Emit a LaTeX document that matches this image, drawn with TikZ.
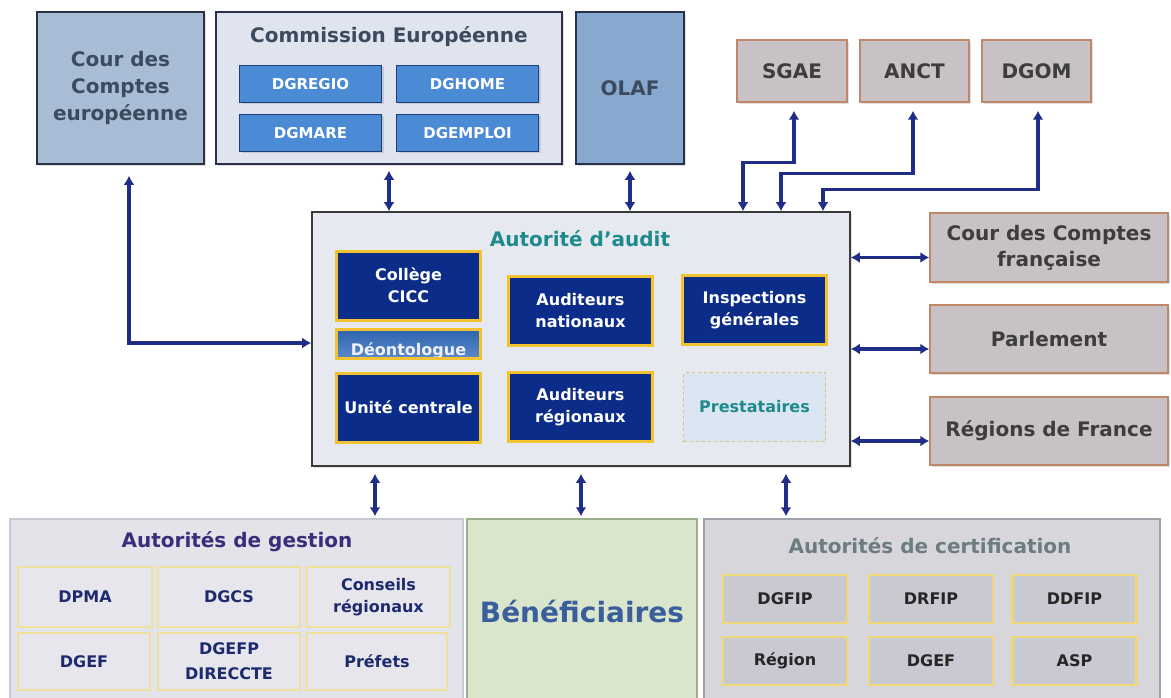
\documentclass[tikz,border=0pt]{standalone}
\usepackage{fontspec}
\setmainfont{DejaVu Sans}
\usetikzlibrary{arrows.meta,shadows,calc}
\definecolor{navyarr}{HTML}{1F2D86}
\definecolor{darkframe}{HTML}{2A3048}
\definecolor{slatetxt}{HTML}{3C4A5E}
\definecolor{cceFill}{HTML}{A9BCD6}
\definecolor{ceFill}{HTML}{DFE4EE}
\definecolor{dgFill}{HTML}{4B8AD4}
\definecolor{dgFrame}{HTML}{1C3C7C}
\definecolor{olafFill}{HTML}{87A9D0}
\definecolor{pinkFill}{HTML}{C8C1C5}
\definecolor{pinkFrame}{HTML}{C08868}
\definecolor{graytxt}{HTML}{3D3D3D}
\definecolor{auditFill}{HTML}{E6E9F0}
\definecolor{auditFrame}{HTML}{3A3A3A}
\definecolor{tealtxt}{HTML}{1E8A8C}
\definecolor{navyFill}{HTML}{0C2C8A}
\definecolor{goldFrame}{HTML}{F2C230}
\definecolor{deoTop}{HTML}{2F62AE}
\definecolor{deoBot}{HTML}{5A8BCB}
\definecolor{prestFill}{HTML}{DCE6F2}
\definecolor{prestFrame}{HTML}{D8C27A}
\definecolor{gestFill}{HTML}{E3E3EA}
\definecolor{gestFrame}{HTML}{C8C8D2}
\definecolor{gestCell}{HTML}{E6E6EC}
\definecolor{gestCellFrame}{HTML}{F0E09A}
\definecolor{gesttitle}{HTML}{3B2D7A}
\definecolor{gestcelltxt}{HTML}{1E2A6E}
\definecolor{benFill}{HTML}{D9E6CC}
\definecolor{benFrame}{HTML}{9AB08A}
\definecolor{bentxt}{HTML}{3A5D9C}
\definecolor{certFill}{HTML}{D7D7DB}
\definecolor{certFrame}{HTML}{A0A0A8}
\definecolor{certtitle}{HTML}{6D7C82}
\definecolor{certCell}{HTML}{C9C9D1}
\definecolor{certCellFrame}{HTML}{F0D878}
\newcommand\fsz[2]{\fontsize{#1}{#2}\selectfont\bfseries}
\begin{document}
\begin{tikzpicture}[x=1pt,y=-1pt,
  base/.style={inner sep=0pt, align=center},
  shad/.style={drop shadow={opacity=0.25, shadow xshift=2pt, shadow yshift=-2pt}},
  bigbox/.style={base, shad, draw=darkframe, line width=1.6pt, text=slatetxt, font=\fsz{20}{27}},
  dgbox/.style={base, shad, draw=dgFrame, fill=dgFill, line width=1.6pt, text=white, font=\fsz{15}{20}, minimum width=142pt, minimum height=37pt},
  pinkbox/.style={base, shad, draw=pinkFrame, fill=pinkFill, line width=1.4pt, text=graytxt, font=\fsz{20}{26}},
  navybox/.style={base, draw=goldFrame, fill=navyFill, line width=3pt, text=white, font=\fsz{16}{22}, minimum width=144pt, minimum height=69pt},
  gcell/.style={base, draw=gestCellFrame, fill=gestCell, line width=1.5pt, text=gestcelltxt, font=\fsz{16}{22}, minimum height=58pt},
  ccell/.style={base, draw=certCellFrame, fill=certCell, line width=2.5pt, text=black!85, font=\fsz{16}{20}, minimum width=124pt, minimum height=48pt},
  arr/.style={draw=navyarr, line width=3.5pt, {Latex[length=9pt,width=11pt]}-{Latex[length=9pt,width=11pt]}}
]
\fill[white] (0,0) rectangle (1171,698);
\path[use as bounding box] (0,0) rectangle (1171,698);

% ---- top row
\node[bigbox, fill=cceFill, minimum width=167pt, minimum height=152pt] (cce) at (120.5,88) {Cour des\\Comptes\\européenne};
\node[bigbox, fill=ceFill, minimum width=346pt, minimum height=152pt] (ce) at (389,88) {};
\node[base, text=slatetxt, font=\fsz{20}{26}] (cet) at (389,37) {Commission Européenne};
\node[dgbox] (dgregio) at (310.5,84) {DGREGIO};
\node[dgbox] (dghome) at (467.5,84) {DGHOME};
\node[dgbox] (dgmare) at (310.5,133) {DGMARE};
\node[dgbox] (dgemploi) at (467.5,133) {DGEMPLOI};
\node[bigbox, fill=olafFill, minimum width=108pt, minimum height=152pt] (olaf) at (630,88) {OLAF};

\node[pinkbox, minimum width=110pt, minimum height=62pt] (sgae) at (792,71) {SGAE};
\node[pinkbox, minimum width=109pt, minimum height=62pt] (anct) at (914.5,71) {ANCT};
\node[pinkbox, minimum width=109pt, minimum height=62pt] (dgom) at (1036.5,71) {DGOM};

% ---- audit authority
\node[base, shad, draw=auditFrame, fill=auditFill, line width=1.6pt, minimum width=538pt, minimum height=254pt] (audit) at (581,339) {};
\node[base, text=tealtxt, font=\fsz{20}{26}] (auditt) at (580,239) {Autorité d’audit};
\node[navybox] (college) at (408.5,285.5) {Collège\\CICC};
\node[base, draw=none, top color=deoTop, bottom color=deoBot, minimum width=144pt, minimum height=29pt] (deonto) at (408.5,344) {};
\begin{scope}
  \clip ([shift={(1.5pt,1.5pt)}]deonto.south west) rectangle ([shift={(-1.5pt,-1.5pt)}]deonto.north east);
  \node[base, anchor=base, text=white!94!blue, font=\fsz{16}{20}] (deontot) at (408.5,355.5) {Déontologue};
\end{scope}
\draw[goldFrame, line width=3pt] (deonto.south west) rectangle (deonto.north east);
\node[navybox] (unite) at (408.5,407.5) {Unité centrale};
\node[navybox] (audnat) at (580.5,310.5) {Auditeurs\\nationaux};
\node[navybox] (audreg) at (580.5,407) {Auditeurs\\régionaux};
\node[navybox] (insp) at (754.5,310) {Inspections\\générales};
\node[base, draw=prestFrame, dashed, fill=prestFill, line width=1.5pt, text=tealtxt, font=\fsz{16}{22}, minimum width=142pt, minimum height=69pt] (prest) at (754.5,407) {Prestataires};

% ---- right column
\node[pinkbox, minimum width=238pt, minimum height=69pt] (ccf) at (1049,247.5) {Cour des Comptes\\française};
\node[pinkbox, minimum width=238pt, minimum height=68pt] (parl) at (1049,339) {Parlement};
\node[pinkbox, minimum width=238pt, minimum height=68pt] (rdf) at (1049,431) {Régions de France};

% ---- bottom row
\node[base, draw=gestFrame, fill=gestFill, line width=1.4pt, minimum width=453pt, minimum height=184pt] (gest) at (236.5,611) {};
\node[base, text=gesttitle, font=\fsz{20}{26}] (gestt) at (237,542) {Autorités de gestion};
\node[gcell, minimum width=134pt, minimum height=60pt] (dpma) at (85,597) {DPMA};
\node[gcell, minimum width=142pt, minimum height=60pt] (dgcs) at (229,597) {DGCS};
\node[gcell, minimum width=143pt, minimum height=60pt] (conseils) at (378.5,597) {Conseils\\régionaux};
\node[gcell, minimum width=132pt, minimum height=57pt] (dgef1) at (84,661.5) {DGEF};
\node[gcell, minimum width=142pt, minimum height=57pt, font=\fsz{16}{25}] (dgefp) at (229,661.5) {DGEFP\\DIRECCTE};
\node[gcell, minimum width=140pt, minimum height=57pt] (prefets) at (377,661.5) {Préfets};

\node[base, draw=benFrame, fill=benFill, line width=1.4pt, minimum width=230pt, minimum height=184pt, text=bentxt, font=\fsz{28}{34}] (benef) at (582,611) {Bénéficiaires};

\node[base, draw=certFrame, fill=certFill, line width=1.4pt, minimum width=456pt, minimum height=184pt] (cert) at (932,611) {};
\node[base, text=certtitle, font=\fsz{20}{26}] (certt) at (930,546) {Autorités de certification};
\node[ccell] (dgfip) at (785,599) {DGFIP};
\node[ccell] (drfip) at (931,599) {DRFIP};
\node[ccell] (ddfip) at (1074.5,599) {DDFIP};
\node[ccell] (region) at (785,661) {Région};
\node[ccell] (dgef2) at (931,661) {DGEF};
\node[ccell] (asp) at (1074.5,661) {ASP};

% ---- connectors
\coordinate (a1) at ([xshift=162pt]audit.north);
\coordinate (a2) at ([xshift=200pt]audit.north);
\coordinate (a3) at ([xshift=242pt]audit.north);
\coordinate (b1) at ([xshift=-206pt]audit.south);
\coordinate (b3) at ([xshift=205pt]audit.south);

\draw[arr] ([xshift=8.5pt,yshift=-11pt]cce.south) |- ([yshift=-4pt]audit.west);
\draw[arr] ([yshift=-6pt]ce.south) -- (ce.south |- audit.north);
\draw[arr] ([yshift=-6pt]olaf.south) -- (olaf.south |- audit.north);
\draw[arr] ([xshift=2pt,yshift=-8pt]sgae.south) -- ++(0,52) -| (a1);
\draw[arr] ([xshift=-1.5pt,yshift=-8pt]anct.south) -- ++(0,63) -| (a2);
\draw[arr] ([xshift=1.5pt,yshift=-8pt]dgom.south) -- ++(0,79) -| (a3);

\draw[arr] ([yshift=-10pt]ccf.west -| audit.east) -- ([yshift=-10pt]ccf.west);
\draw[arr] ([yshift=-10pt]parl.west -| audit.east) -- ([yshift=-10pt]parl.west);
\draw[arr] ([yshift=-10pt]rdf.west -| audit.east) -- ([yshift=-10pt]rdf.west);

\draw[arr] ([yshift=-7pt]b1) -- ([yshift=2pt]b1 |- gest.north);
\draw[arr] ([yshift=-7pt]audit.south) -- ([yshift=2pt]audit.south |- benef.north);
\draw[arr] ([yshift=-7pt]b3) -- ([yshift=2pt]b3 |- cert.north);
\end{tikzpicture}
\end{document}
